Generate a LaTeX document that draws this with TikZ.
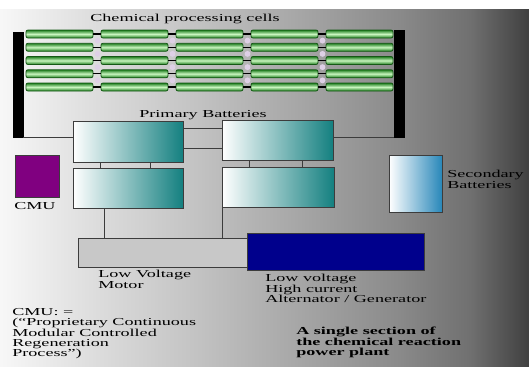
\documentclass[tikz,border=0pt]{standalone}
\usepackage{fontspec}
\setmainfont{Liberation Serif}[FakeStretch=1.7]
\usetikzlibrary{calc}

\definecolor{wire}{RGB}{60,60,60}
\definecolor{celldark}{RGB}{30,125,30}
\definecolor{celllight}{RGB}{200,245,190}
\definecolor{battteal}{RGB}{20,128,128}
\definecolor{secblue}{RGB}{40,135,185}
\definecolor{cmupurple}{RGB}{128,0,128}
\definecolor{altblue}{RGB}{0,0,140}
\definecolor{motorgray}{RGB}{200,200,200}
\definecolor{gapdot}{RGB}{222,208,230}
\definecolor{bgA}{gray}{0.97}
\definecolor{bgB}{gray}{0.86}
\definecolor{bgC}{gray}{0.76}
\definecolor{bgD}{gray}{0.65}
\definecolor{bgE}{gray}{0.54}
\definecolor{bgF}{gray}{0.44}
\definecolor{bgG}{gray}{0.25}

\pgfdeclarehorizontalshading{plantbg}{100bp}{color(0bp)=(bgA); color(25bp)=(bgA);
  color(34.45bp)=(bgB); color(43.9bp)=(bgC); color(53.4bp)=(bgD);
  color(62.8bp)=(bgE); color(69.4bp)=(bgF); color(75bp)=(bgG); color(100bp)=(bgG)}
\pgfdeclareverticalshading{cellglow}{100bp}{color(0bp)=(celldark); color(25bp)=(celldark);
  color(50bp)=(celllight); color(75bp)=(celldark); color(100bp)=(celldark)}

\begin{document}
\begin{tikzpicture}[x=0.75pt,y=-0.75pt,
    box/.style={draw=wire,line width=0.6pt,anchor=north west,inner sep=0pt,outer sep=0pt},
    cell/.style={box,draw=celldark!70!black,rounded corners=1.5pt,shading=cellglow,
      minimum width=50.25pt,minimum height=6pt},
    batt/.style={box,left color=white,right color=battteal,minimum height=30pt},
    bar/.style={box,draw=black,fill=black,minimum width=7.5pt},
    link/.style={draw=wire,line width=0.6pt},
    lbl/.style={inner sep=0pt,anchor=north west,align=left,font=\fontsize{8}{7.8}\selectfont}]

\useasboundingbox (0,0) rectangle (529,375);
\fill[white] (0,0) rectangle (529,375);
\shade[shading=plantbg] (0,9) rectangle (529,366);

% processing cells
\node[lbl,anchor=center] (celltitle) at (185,19) {Chemical processing cells};
\node[bar,minimum height=78.75pt] (lbar) at (13,32) {};
\node[bar,minimum height=80.25pt] (rbar) at (394,30) {};
\foreach \row in {0,...,4}
  \foreach \col in {0,...,4}
    \node[cell] (cell-\row-\col) at ({26+75*\col},{30+13.25*\row}) {};
\foreach \row/\nxt in {0/1,1/2,2/3,3/4}
  \foreach \col in {0,...,3}
    \fill[gapdot] ($(cell-\row-\col.south east)!0.5!(cell-\nxt-\col.north east)+(4.5,0)$) circle (2.2pt);
\foreach \row in {0,...,4}
  \foreach \col/\nxt in {0/1,1/2,2/3,3/4}
    \draw[black,line width=1pt] (cell-\row-\col.east) -- (cell-\row-\nxt.west);

% primary batteries
\node[lbl,anchor=center] (batttitle) at (203,115) {Primary Batteries};
\node[batt,minimum width=82.5pt,minimum height=30.75pt] (pb1) at (73,121) {};
\node[batt,minimum width=82.5pt] (pb2) at (73,168) {};
\node[batt,minimum width=83.25pt] (pb3) at (222,120) {};
\node[batt,minimum width=84pt] (pb4) at (222,167) {};

\draw[link] (lbar.south east) -- (lbar.south east -| pb1.west);
\draw[link] (rbar.south west) -- (rbar.south west -| pb3.east);
\foreach \s in {-5.25pt,-20.25pt}{
  \coordinate (t) at ([yshift=\s]pb1.north east);
  \draw[link] (t) -- (t -| pb3.west);
}
\foreach \s in {20.25pt,57.75pt}{
  \coordinate (t) at ([xshift=\s]pb1.south west);
  \draw[link] (t) -- (t |- pb2.north);
}
\foreach \s in {20.25pt,60pt}{
  \coordinate (t) at ([xshift=\s]pb3.south west);
  \draw[link] (t) -- (t |- pb4.north);
}

% cmu and secondary
\node[box,fill=cmupurple,minimum width=33pt,minimum height=31.5pt] (cmu) at (15,155) {};
\node[lbl] (cmutext) at (14,202) {CMU};
\node[box,left color=white,right color=secblue,minimum width=39.75pt,minimum height=42.75pt] (sec) at (389,155) {};
\node[lbl] (sectext) at (447,170) {Secondary\\Batteries};

% motor and alternator
\node[box,fill=motorgray,minimum width=127.5pt,minimum height=21.75pt] (motor) at (78,238) {};
\node[box,fill=altblue,minimum width=132.75pt,minimum height=27.75pt] (alt) at (247,233) {};
\coordinate (t) at ([xshift=23.25pt]pb2.south west);
\draw[link] (t) -- (t |- motor.north);
\draw[link] (pb4.south west) -- (pb4.south west |- motor.north);
\node[lbl] (motortext) at (98,270) {Low Voltage\\Motor};
\node[lbl] (alttext) at (265,274) {Low voltage\\High current\\Alternator / Generator};

% notes
\node[lbl] (cmunote) at (12,308) {CMU: =\\(“Proprietary Continuous\\Modular Controlled\\Regeneration\\Process”)};
\node[lbl,font=\fontsize{8}{7.8}\selectfont\bfseries] (plantnote) at (296,327) {A single section of\\the chemical reaction\\power plant};
\end{tikzpicture}
\end{document}
